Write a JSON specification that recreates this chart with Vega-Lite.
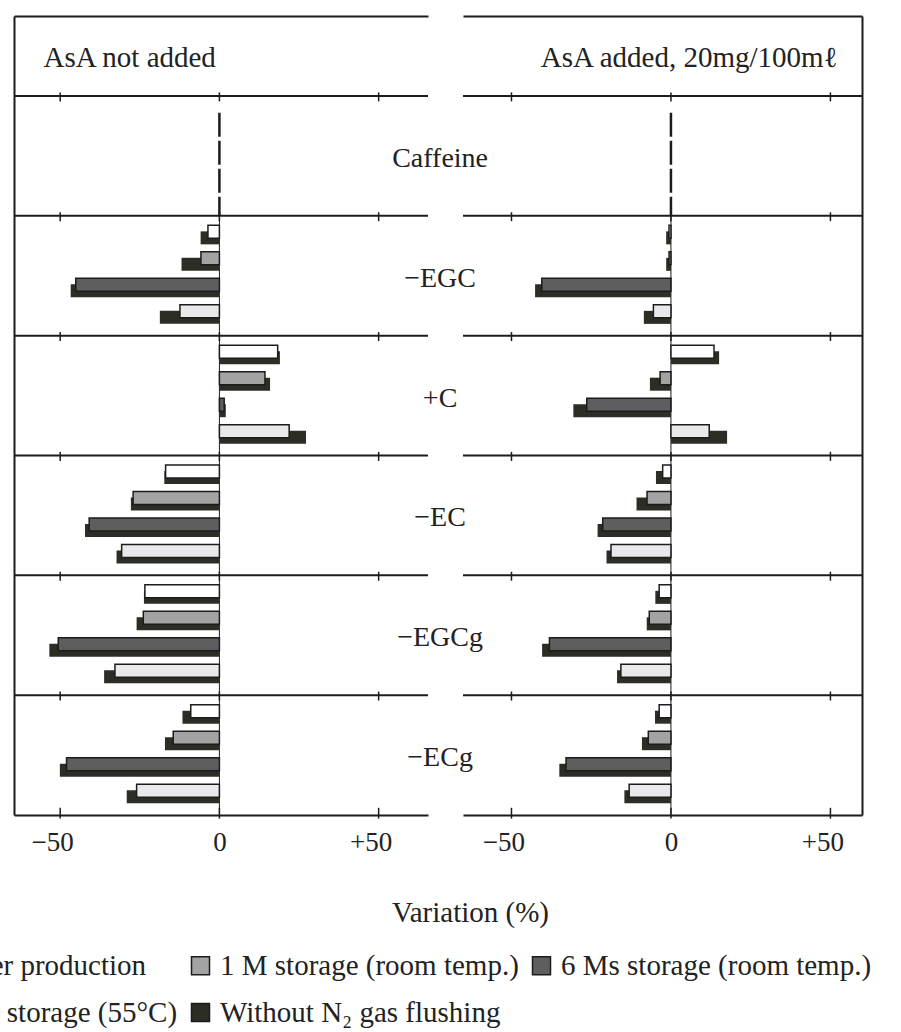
{
  "$schema": "https://vega.github.io/schema/vega-lite/v6.json",
  "autosize": {"type": "none"},
  "padding": {"left": 14, "top": 16, "right": 887, "bottom": 1016},
  "background": "white",
  "bounds": "flush",
  "spacing": 35,
  "config": {
    "view": {"stroke": null},
    "font": "Liberation Serif",
    "axis": {"grid": false}
  },
  "datasets": {
    "rows": [
      {"compound": "Caffeine"}, {"compound": "−EGC"}, {"compound": "+C"},
      {"compound": "−EC"}, {"compound": "−EGCg"}, {"compound": "−ECg"}
    ],
    "ticks": [
      {"compound": "Caffeine", "tick": -50}, {"compound": "Caffeine", "tick": 0}, {"compound": "Caffeine", "tick": 50},
      {"compound": "−EGC", "tick": -50}, {"compound": "−EGC", "tick": 0}, {"compound": "−EGC", "tick": 50},
      {"compound": "+C", "tick": -50}, {"compound": "+C", "tick": 0}, {"compound": "+C", "tick": 50},
      {"compound": "−EC", "tick": -50}, {"compound": "−EC", "tick": 0}, {"compound": "−EC", "tick": 50},
      {"compound": "−EGCg", "tick": -50}, {"compound": "−EGCg", "tick": 0}, {"compound": "−EGCg", "tick": 50},
      {"compound": "−ECg", "tick": -50}, {"compound": "−ECg", "tick": 0}, {"compound": "−ECg", "tick": 50}
    ],
    "tickvals": [{"tick": -50}, {"tick": 0}, {"tick": 50}],
    "bars": [
      {"panel": "L", "compound": "−EGC", "condition": "After production", "n2": -3.6, "noN2": -5.9},
      {"panel": "L", "compound": "−EGC", "condition": "1 M storage (room temp.)", "n2": -5.8, "noN2": -11.9},
      {"panel": "L", "compound": "−EGC", "condition": "6 Ms storage (room temp.)", "n2": -45.1, "noN2": -46.7},
      {"panel": "L", "compound": "−EGC", "condition": "1 M storage (55°C)", "n2": -12.4, "noN2": -18.7},
      {"panel": "L", "compound": "+C", "condition": "After production", "n2": 18.3, "noN2": 19.0},
      {"panel": "L", "compound": "+C", "condition": "1 M storage (room temp.)", "n2": 14.3, "noN2": 15.9},
      {"panel": "L", "compound": "+C", "condition": "6 Ms storage (room temp.)", "n2": 1.5, "noN2": 2.0},
      {"panel": "L", "compound": "+C", "condition": "1 M storage (55°C)", "n2": 21.9, "noN2": 27.2},
      {"panel": "L", "compound": "−EC", "condition": "After production", "n2": -16.9, "noN2": -17.3},
      {"panel": "L", "compound": "−EC", "condition": "1 M storage (room temp.)", "n2": -27.1, "noN2": -27.8},
      {"panel": "L", "compound": "−EC", "condition": "6 Ms storage (room temp.)", "n2": -40.9, "noN2": -42.2},
      {"panel": "L", "compound": "−EC", "condition": "1 M storage (55°C)", "n2": -30.7, "noN2": -32.3},
      {"panel": "L", "compound": "−EGCg", "condition": "After production", "n2": -23.4, "noN2": -23.7},
      {"panel": "L", "compound": "−EGCg", "condition": "1 M storage (room temp.)", "n2": -23.9, "noN2": -26.0},
      {"panel": "L", "compound": "−EGCg", "condition": "6 Ms storage (room temp.)", "n2": -50.6, "noN2": -53.4},
      {"panel": "L", "compound": "−EGCg", "condition": "1 M storage (55°C)", "n2": -32.8, "noN2": -36.2},
      {"panel": "L", "compound": "−ECg", "condition": "After production", "n2": -9.0, "noN2": -11.6},
      {"panel": "L", "compound": "−ECg", "condition": "1 M storage (room temp.)", "n2": -14.5, "noN2": -17.1},
      {"panel": "L", "compound": "−ECg", "condition": "6 Ms storage (room temp.)", "n2": -48.0, "noN2": -50.1},
      {"panel": "L", "compound": "−ECg", "condition": "1 M storage (55°C)", "n2": -26.0, "noN2": -29.1},
      {"panel": "R", "compound": "−EGC", "condition": "After production", "n2": -0.6, "noN2": -1.5},
      {"panel": "R", "compound": "−EGC", "condition": "1 M storage (room temp.)", "n2": -0.6, "noN2": -1.5},
      {"panel": "R", "compound": "−EGC", "condition": "6 Ms storage (room temp.)", "n2": -40.5, "noN2": -42.6},
      {"panel": "R", "compound": "−EGC", "condition": "1 M storage (55°C)", "n2": -5.5, "noN2": -8.5},
      {"panel": "R", "compound": "+C", "condition": "After production", "n2": 13.5, "noN2": 15.1},
      {"panel": "R", "compound": "+C", "condition": "1 M storage (room temp.)", "n2": -3.4, "noN2": -6.6},
      {"panel": "R", "compound": "+C", "condition": "6 Ms storage (room temp.)", "n2": -26.4, "noN2": -30.6},
      {"panel": "R", "compound": "+C", "condition": "1 M storage (55°C)", "n2": 12.0, "noN2": 17.6},
      {"panel": "R", "compound": "−EC", "condition": "After production", "n2": -2.6, "noN2": -4.7},
      {"panel": "R", "compound": "−EC", "condition": "1 M storage (room temp.)", "n2": -7.5, "noN2": -10.8},
      {"panel": "R", "compound": "−EC", "condition": "6 Ms storage (room temp.)", "n2": -21.4, "noN2": -23.0},
      {"panel": "R", "compound": "−EC", "condition": "1 M storage (55°C)", "n2": -18.8, "noN2": -20.2},
      {"panel": "R", "compound": "−EGCg", "condition": "After production", "n2": -3.7, "noN2": -4.9},
      {"panel": "R", "compound": "−EGCg", "condition": "1 M storage (room temp.)", "n2": -6.8, "noN2": -7.6},
      {"panel": "R", "compound": "−EGCg", "condition": "6 Ms storage (room temp.)", "n2": -38.1, "noN2": -40.4},
      {"panel": "R", "compound": "−EGCg", "condition": "1 M storage (55°C)", "n2": -15.7, "noN2": -16.9},
      {"panel": "R", "compound": "−ECg", "condition": "After production", "n2": -3.7, "noN2": -5.0},
      {"panel": "R", "compound": "−ECg", "condition": "1 M storage (room temp.)", "n2": -7.1, "noN2": -9.1},
      {"panel": "R", "compound": "−ECg", "condition": "6 Ms storage (room temp.)", "n2": -32.9, "noN2": -35.0},
      {"panel": "R", "compound": "−ECg", "condition": "1 M storage (55°C)", "n2": -13.1, "noN2": -14.6}
    ]
  },
  "hconcat": [
    {
      "width": 414,
      "height": 799,
      "resolve": {"scale": {"yOffset": "independent"}, "axis": {"x": "independent", "y": "independent"}},
      "layer": [
        {
          "data": {"name": "rows"},
          "mark": {"type": "rule", "color": "#1c1c1c", "strokeWidth": 2},
          "encoding": {
            "y": {"field": "compound", "type": "nominal", "bandPosition": 0, "axis": null,
                  "scale": {"type": "band", "domain": ["Caffeine", "−EGC", "+C", "−EC", "−EGCg", "−ECg"], "paddingInner": 0, "paddingOuter": 0.3338, "align": 1}}
          }
        },
        {
          "data": {"name": "ticks"},
          "mark": {"type": "rule", "color": "#1c1c1c", "strokeWidth": 1.5},
          "encoding": {
            "x": {"field": "tick", "type": "quantitative", "scale": {"domain": [-64.5, 65.5], "nice": false, "zero": false},
                  "axis": {"orient": "top", "ticks": false, "labels": false, "grid": false, "domain": true, "domainColor": "#1c1c1c", "domainWidth": 2,
                           "title": "AsA not added", "titleX": 29, "titleY": 41, "titleAlign": "left", "titleBaseline": "middle", "titleAngle": 0,
                           "titleFont": "Liberation Serif", "titleFontSize": 29, "titleFontWeight": "normal", "titleColor": "#222222"}},
            "y": {"field": "compound", "type": "nominal", "bandPosition": -0.03, "axis": null},
            "y2": {"field": "compound", "bandPosition": 0.045}
          }
        },
        {
          "data": {"name": "tickvals"},
          "mark": {"type": "rule", "color": "#1c1c1c", "strokeWidth": 1.5},
          "encoding": {
            "x": {"field": "tick", "type": "quantitative", "axis": null},
            "y": {"datum": "−ECg", "type": "nominal", "bandPosition": 0.94, "axis": null},
            "y2": {"datum": "−ECg", "bandPosition": 1.03}
          }
        },
        {
          "data": {"name": "rows"},
          "transform": [{"filter": "datum.compound == 'Caffeine'"}],
          "mark": {"type": "rule", "color": "#1c1c1c", "strokeWidth": 2.5, "strokeDash": [24, 4]},
          "encoding": {
            "x": {"datum": 0, "type": "quantitative", "axis": null},
            "y": {"field": "compound", "type": "nominal", "bandPosition": 0.14, "axis": null},
            "y2": {"datum": "−EGC", "bandPosition": 0}
          }
        },
        {
          "data": {"name": "rows"},
          "transform": [{"filter": "datum.compound == '−EGC'"}],
          "mark": {"type": "rule", "color": "#1c1c1c", "strokeWidth": 1},
          "encoding": {
            "x": {"datum": 0, "type": "quantitative", "axis": null},
            "y": {"field": "compound", "type": "nominal", "bandPosition": 0, "axis": null},
            "y2": {"datum": "−ECg", "bandPosition": 1}
          }
        },
        {
          "data": {"name": "bars"},
          "transform": [{"filter": "datum.panel == 'L'"}],
          "mark": {"type": "bar"},
          "encoding": {
            "x": {"field": "noN2", "type": "quantitative", "axis": null},
            "y": {"field": "compound", "type": "nominal", "axis": null},
            "yOffset": {"field": "condition", "type": "nominal",
                        "scale": {"domain": ["After production", "1 M storage (room temp.)", "6 Ms storage (room temp.)", "1 M storage (55°C)"], "paddingInner": 0.509, "paddingOuter": 0.5155, "align": 0.568}},
            "fill": {"datum": "Without N₂ gas flushing", "type": "nominal",
                     "scale": {"domain": ["After production", "1 M storage (room temp.)", "6 Ms storage (room temp.)", "1 M storage (55°C)", "Without N₂ gas flushing"],
                               "range": ["#ffffff", "#a3a3a3", "#5e5e5e", "#e9e9e9", "#2d2d26"]},
                     "legend": {"title": null, "orient": "none", "legendX": -96, "legendY": 935, "columns": 3, "direction": "horizontal",
                                "symbolType": "square", "symbolSize": 324, "symbolStrokeColor": "#1c1c1c", "symbolStrokeWidth": 1.5,
                                "labelFont": "Liberation Serif", "labelFontSize": 29, "labelColor": "#222222", "labelLimit": 700, "labelOffset": 5,
                                "rowPadding": 17, "columnPadding": 8, "padding": 0}}
          }
        },
        {
          "data": {"name": "bars"},
          "transform": [{"filter": "datum.panel == 'L'"}],
          "mark": {"type": "bar", "stroke": "#1c1c1c", "strokeWidth": 1.5},
          "encoding": {
            "x": {"field": "n2", "type": "quantitative",
                  "axis": {"orient": "bottom", "values": [-50, 0, 50], "ticks": false, "grid": false, "domain": true, "domainColor": "#1c1c1c", "domainWidth": 2,
                           "labelExpr": "datum.value > 0 ? '+' + datum.value : (datum.value < 0 ? '−' + abs(datum.value) : '0')",
                           "labelFont": "Liberation Serif", "labelFontSize": 27, "labelColor": "#222222", "labelPadding": 14, "labelFlush": false, "labelOverlap": false,
                           "labelOffset": {"condition": {"test": "datum.value == 0", "value": 0}, "value": -8},
                           "title": "Variation (%)", "titleX": 456, "titleY": 97, "titleAlign": "center", "titleBaseline": "middle", "titleAngle": 0,
                           "titleFont": "Liberation Serif", "titleFontSize": 29, "titleFontWeight": "normal", "titleColor": "#222222"}},
            "y": {"field": "compound", "type": "nominal",
                  "axis": {"orient": "left", "domain": true, "ticks": false, "labels": false, "title": null, "grid": false, "domainColor": "#1c1c1c", "domainWidth": 2}},
            "yOffset": {"field": "condition", "type": "nominal",
                        "scale": {"domain": ["After production", "1 M storage (room temp.)", "6 Ms storage (room temp.)", "1 M storage (55°C)"], "paddingInner": 0.509, "paddingOuter": 0.5155, "align": 0.348}},
            "fill": {"field": "condition", "type": "nominal",
                     "legend": {"title": null, "orient": "none", "legendX": -96, "legendY": 935, "columns": 3, "direction": "horizontal",
                                "symbolType": "square", "symbolSize": 324, "symbolStrokeColor": "#1c1c1c", "symbolStrokeWidth": 1.5,
                                "labelFont": "Liberation Serif", "labelFontSize": 29, "labelColor": "#222222", "labelLimit": 700, "labelOffset": 5,
                                "rowPadding": 17, "columnPadding": 8, "padding": 0}}
          }
        },
        {
          "data": {"name": "rows"},
          "mark": {"type": "text", "font": "Liberation Serif", "fontSize": 28, "color": "#222222", "align": "center", "baseline": "middle", "dy": 3},
          "encoding": {
            "x": {"datum": 69.3, "type": "quantitative", "axis": null},
            "y": {"field": "compound", "type": "nominal", "axis": null},
            "text": {"field": "compound"}
          }
        }
      ]
    },
    {
      "width": 399,
      "height": 799,
      "resolve": {"scale": {"yOffset": "independent"}, "axis": {"x": "independent", "y": "independent"}},
      "layer": [
        {
          "data": {"name": "rows"},
          "mark": {"type": "rule", "color": "#1c1c1c", "strokeWidth": 2},
          "encoding": {
            "y": {"field": "compound", "type": "nominal", "bandPosition": 0, "axis": null,
                  "scale": {"type": "band", "domain": ["Caffeine", "−EGC", "+C", "−EC", "−EGCg", "−ECg"], "paddingInner": 0, "paddingOuter": 0.3338, "align": 1}}
          }
        },
        {
          "data": {"name": "ticks"},
          "mark": {"type": "rule", "color": "#1c1c1c", "strokeWidth": 1.5},
          "encoding": {
            "x": {"field": "tick", "type": "quantitative", "scale": {"domain": [-65.2, 59.9], "nice": false, "zero": false},
                  "axis": {"orient": "top", "ticks": false, "labels": false, "grid": false, "domain": true, "domainColor": "#1c1c1c", "domainWidth": 2,
                           "title": "AsA added, 20mg/100mℓ", "titleX": 374, "titleY": 41, "titleAlign": "right", "titleBaseline": "middle", "titleAngle": 0,
                           "titleFont": "Liberation Serif", "titleFontSize": 29, "titleFontWeight": "normal", "titleColor": "#222222"}},
            "y": {"field": "compound", "type": "nominal", "bandPosition": -0.03, "axis": null},
            "y2": {"field": "compound", "bandPosition": 0.045}
          }
        },
        {
          "data": {"name": "tickvals"},
          "mark": {"type": "rule", "color": "#1c1c1c", "strokeWidth": 1.5},
          "encoding": {
            "x": {"field": "tick", "type": "quantitative", "axis": null},
            "y": {"datum": "−ECg", "type": "nominal", "bandPosition": 0.94, "axis": null},
            "y2": {"datum": "−ECg", "bandPosition": 1.03}
          }
        },
        {
          "data": {"name": "rows"},
          "transform": [{"filter": "datum.compound == 'Caffeine'"}],
          "mark": {"type": "rule", "color": "#1c1c1c", "strokeWidth": 2.5, "strokeDash": [24, 4]},
          "encoding": {
            "x": {"datum": 0, "type": "quantitative", "axis": null},
            "y": {"field": "compound", "type": "nominal", "bandPosition": 0.14, "axis": null},
            "y2": {"datum": "−EGC", "bandPosition": 0}
          }
        },
        {
          "data": {"name": "rows"},
          "transform": [{"filter": "datum.compound == '−EGC'"}],
          "mark": {"type": "rule", "color": "#1c1c1c", "strokeWidth": 1},
          "encoding": {
            "x": {"datum": 0, "type": "quantitative", "axis": null},
            "y": {"field": "compound", "type": "nominal", "bandPosition": 0, "axis": null},
            "y2": {"datum": "−ECg", "bandPosition": 1}
          }
        },
        {
          "data": {"name": "bars"},
          "transform": [{"filter": "datum.panel == 'R'"}],
          "mark": {"type": "bar"},
          "encoding": {
            "x": {"field": "noN2", "type": "quantitative", "axis": null},
            "y": {"field": "compound", "type": "nominal", "axis": null},
            "yOffset": {"field": "condition", "type": "nominal",
                        "scale": {"domain": ["After production", "1 M storage (room temp.)", "6 Ms storage (room temp.)", "1 M storage (55°C)"], "paddingInner": 0.509, "paddingOuter": 0.5155, "align": 0.568}},
            "fill": {"datum": "Without N₂ gas flushing", "type": "nominal",
                     "legend": {"title": null, "orient": "none", "legendX": -96, "legendY": 935, "columns": 3, "direction": "horizontal",
                                "symbolType": "square", "symbolSize": 324, "symbolStrokeColor": "#1c1c1c", "symbolStrokeWidth": 1.5,
                                "labelFont": "Liberation Serif", "labelFontSize": 29, "labelColor": "#222222", "labelLimit": 700, "labelOffset": 5,
                                "rowPadding": 17, "columnPadding": 8, "padding": 0}}
          }
        },
        {
          "data": {"name": "bars"},
          "transform": [{"filter": "datum.panel == 'R'"}],
          "mark": {"type": "bar", "stroke": "#1c1c1c", "strokeWidth": 1.5},
          "encoding": {
            "x": {"field": "n2", "type": "quantitative",
                  "axis": {"orient": "bottom", "values": [-50, 0, 50], "ticks": false, "grid": false, "domain": true, "domainColor": "#1c1c1c", "domainWidth": 2,
                           "labelExpr": "datum.value > 0 ? '+' + datum.value : (datum.value < 0 ? '−' + abs(datum.value) : '0')",
                           "labelFont": "Liberation Serif", "labelFontSize": 27, "labelColor": "#222222", "labelPadding": 14, "labelFlush": false, "labelOverlap": false,
                           "labelOffset": {"condition": {"test": "datum.value == 0", "value": 0}, "value": -8},
                           "title": null}},
            "y": {"field": "compound", "type": "nominal",
                  "axis": {"orient": "right", "domain": true, "ticks": false, "labels": false, "title": null, "grid": false, "domainColor": "#1c1c1c", "domainWidth": 2}},
            "yOffset": {"field": "condition", "type": "nominal",
                        "scale": {"domain": ["After production", "1 M storage (room temp.)", "6 Ms storage (room temp.)", "1 M storage (55°C)"], "paddingInner": 0.509, "paddingOuter": 0.5155, "align": 0.348}},
            "fill": {"field": "condition", "type": "nominal",
                     "legend": {"title": null, "orient": "none", "legendX": -96, "legendY": 935, "columns": 3, "direction": "horizontal",
                                "symbolType": "square", "symbolSize": 324, "symbolStrokeColor": "#1c1c1c", "symbolStrokeWidth": 1.5,
                                "labelFont": "Liberation Serif", "labelFontSize": 29, "labelColor": "#222222", "labelLimit": 700, "labelOffset": 5,
                                "rowPadding": 17, "columnPadding": 8, "padding": 0}}
          }
        }
      ]
    }
  ]
}
